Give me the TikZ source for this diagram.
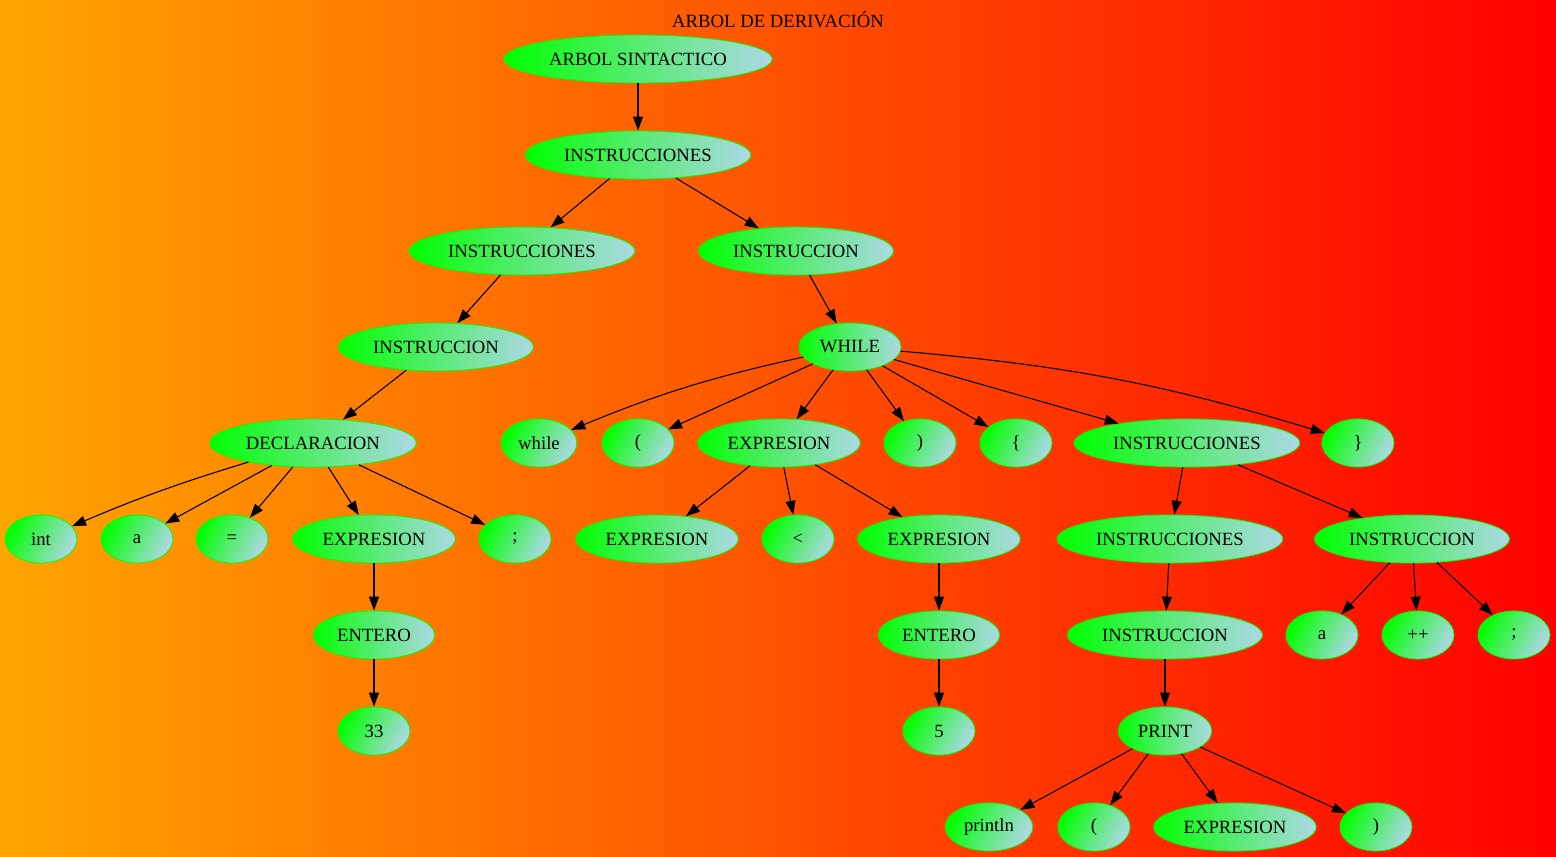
\documentclass[tikz,border=0pt]{standalone}
\usepackage{fontspec}
\setmainfont{Liberation Serif}
\usetikzlibrary{arrows.meta}
\usetikzlibrary{shapes}
\usetikzlibrary{backgrounds}
\definecolor{gv_orange}{HTML}{FFA500}
\definecolor{gv_red}{HTML}{FF0000}
\definecolor{gv_green}{HTML}{00FF00}
\definecolor{gv_lightblue}{HTML}{ADD8E6}

\begin{document}
\begin{tikzpicture}[
	    x=1pt, y=-1pt,
	    background rectangle/.style={left color=gv_orange, right color=gv_red, draw=none},
	    show background rectangle, inner frame sep=0pt,
	    titletext/.style={align=center, font=\fontsize{18.7}{22}\selectfont},
	    ellnode/.style={ellipse, draw=gv_green, line width=0.8pt, left color=gv_green, right color=gv_lightblue,
	        minimum height=48pt, minimum width=72pt, inner xsep=6pt, font=\fontsize{18.7}{22}\selectfont},
	    smallnode/.style={ellnode, top color=gv_green, bottom color=gv_lightblue, shading angle=64},
	    normalline/.style={-{Triangle[length=14pt,width=10pt]}, line width=1.1pt},
	]
	\useasboundingbox (0,0) rectangle (1556,857);

	\node[titletext] (title) at (778,20) {ARBOL DE DERIVACIÓN};

	% ------------ top of the tree
	\node[ellnode] (arbol) at (638,59) {ARBOL SINTACTICO};
	\node[ellnode] (instrs) at (638,155) {INSTRUCCIONES};
	\node[ellnode] (instrsleft) at (522,251) {INSTRUCCIONES};
	\node[ellnode] (instrright) at (796,251) {INSTRUCCION};

	\draw [normalline] (arbol) -- (instrs);
	\draw [normalline] (instrs) -- (instrsleft);
	\draw [normalline] (instrs) -- (instrright);

	% ------------ declaracion
	\node[ellnode] (instrleft) at (436,347) {INSTRUCCION};
	\node[ellnode] (decl) at (313,443) {DECLARACION};
	\node[smallnode] (declint) at (41,539) {int};
	\node[smallnode] (declid) at (137,539) {a};
	\node[smallnode] (decleq) at (232,539) {=};
	\node[ellnode] (declexpr) at (374,539) {EXPRESION};
	\node[smallnode] (declsemi) at (515,539) {;};
	\node[ellnode] (declent) at (374,635) {ENTERO};
	\node[smallnode] (declnum) at (374,731) {33};

	\draw [normalline] (instrsleft) -- (instrleft);
	\draw [normalline] (instrleft) -- (decl);
	\draw [normalline] (decl) to[bend right=3] (declint);
	\draw [normalline] (decl) -- (declid);
	\draw [normalline] (decl) -- (decleq);
	\draw [normalline] (decl) -- (declexpr);
	\draw [normalline] (decl) -- (declsemi);
	\draw [normalline] (declexpr) -- (declent);
	\draw [normalline] (declent) -- (declnum);

	% ------------ while
	\node[ellnode] (whl) at (850,347) {WHILE};
	\node[smallnode] (whlkw) at (539,443) {while};
	\node[smallnode] (whllpar) at (638,443) {(};
	\node[ellnode] (whlcond) at (779,443) {EXPRESION};
	\node[smallnode] (whlrpar) at (920,443) {)};
	\node[smallnode] (whllbr) at (1016,443) {\{};
	\node[ellnode] (whlbody) at (1187,443) {INSTRUCCIONES};
	\node[smallnode] (whlrbr) at (1358,443) {\}};

	\draw [normalline] (instrright) -- (whl);
	\draw [normalline] (whl) to[bend right=5] (whlkw);
	\draw [normalline] (whl) -- (whllpar);
	\draw [normalline] (whl) -- (whlcond);
	\draw [normalline] (whl) -- (whlrpar);
	\draw [normalline] (whl) -- (whllbr);
	\draw [normalline] (whl) -- (whlbody);
	\draw [normalline] (whl) to[bend left=6] (whlrbr);

	% ------------ condicion
	\node[ellnode] (condleft) at (657,539) {EXPRESION};
	\node[smallnode] (condop) at (798,539) {<};
	\node[ellnode] (condright) at (939,539) {EXPRESION};
	\node[ellnode] (condent) at (939,635) {ENTERO};
	\node[smallnode] (condnum) at (939,731) {5};

	\draw [normalline] (whlcond) -- (condleft);
	\draw [normalline] (whlcond) -- (condop);
	\draw [normalline] (whlcond) -- (condright);
	\draw [normalline] (condright) -- (condent);
	\draw [normalline] (condent) -- (condnum);

	% ------------ cuerpo
	\node[ellnode] (bodyinstrs) at (1170,539) {INSTRUCCIONES};
	\node[ellnode] (bodyinstr) at (1412,539) {INSTRUCCION};
	\node[ellnode] (printinstr) at (1165,635) {INSTRUCCION};
	\node[ellnode] (print) at (1165,731) {PRINT};
	\node[smallnode] (printkw) at (989,827) {println};
	\node[smallnode] (printlpar) at (1094,827) {(};
	\node[ellnode] (printexpr) at (1235,827) {EXPRESION};
	\node[smallnode] (printrpar) at (1376,827) {)};
	\node[smallnode] (incid) at (1322,635) {a};
	\node[smallnode] (incop) at (1418,635) {++};
	\node[smallnode] (incsemi) at (1514,635) {;};

	\draw [normalline] (whlbody) -- (bodyinstrs);
	\draw [normalline] (whlbody) -- (bodyinstr);
	\draw [normalline] (bodyinstrs) -- (printinstr);
	\draw [normalline] (printinstr) -- (print);
	\draw [normalline] (print) -- (printkw);
	\draw [normalline] (print) -- (printlpar);
	\draw [normalline] (print) -- (printexpr);
	\draw [normalline] (print) -- (printrpar);
	\draw [normalline] (bodyinstr) -- (incid);
	\draw [normalline] (bodyinstr) -- (incop);
	\draw [normalline] (bodyinstr) -- (incsemi);

	\end{tikzpicture}
\end{document}
